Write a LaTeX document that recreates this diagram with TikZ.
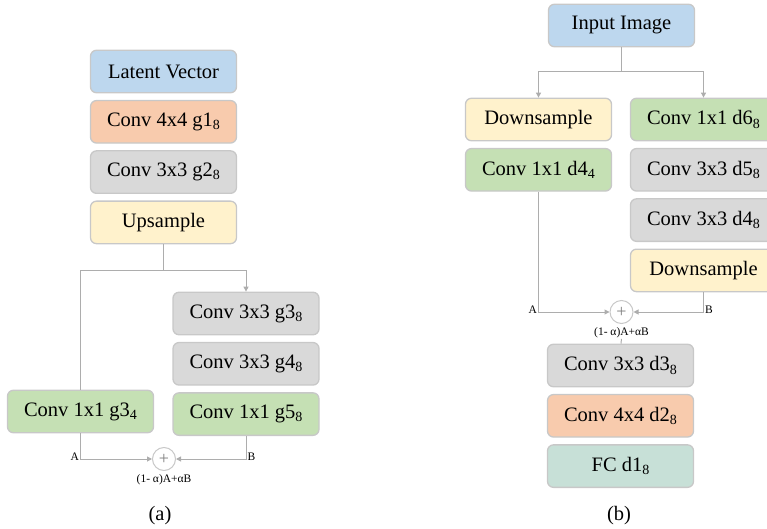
\documentclass[tikz,border=0pt]{standalone}
\usepackage{fontspec}
\setmainfont{Liberation Serif}
\usepackage{tikz}
\usetikzlibrary{positioning, arrows.meta}
\definecolor{bordo}{HTML}{C8C8C8}
\definecolor{linea}{HTML}{ADADAD}
\definecolor{blu}{HTML}{BDD7EE}
\definecolor{arancio}{HTML}{F8CBAD}
\definecolor{grigio}{HTML}{D9D9D9}
\definecolor{giallo}{HTML}{FFF2CC}
\definecolor{verde}{HTML}{C5E0B4}
\definecolor{acqua}{HTML}{C7E0D7}
% pedice abbassato (numero di canali)
\newcommand{\pedice}[1]{\raisebox{-0.35ex}{\fontsize{14}{14}\selectfont #1}}
\tikzset{
	>={Triangle[length=5pt, width=5pt]},
	% blocco generico (strato della rete)
	strato/.style={draw=bordo, line width=1.3pt, rounded corners=6pt, fill=#1,
	               minimum width=146pt, minimum height=42.5pt, inner sep=0pt,
	               font=\fontsize{20.5}{23}\selectfont},
	% nodo somma pesata
	somma/.style={draw=bordo, line width=1pt, circle, fill=white, minimum size=23pt,
	              inner sep=0pt, text=gray, font=\fontsize{18}{18}\selectfont},
	% collegamento
	link/.style={draw=linea, line width=1pt},
	% etichette piccole
	etich/.style={font=\fontsize{11.5}{12}\selectfont, inner sep=1pt},
	didascalia/.style={font=\fontsize{20.5}{23}\selectfont},
}

\begin{document}
\begin{tikzpicture}[x=1pt, y=-1pt, node distance=6.5pt]
    \useasboundingbox (0,0) rectangle (767,529);
    \clip (0,0) rectangle (767,529);
    % generatore
    \node[strato=blu] (lat) at (163.5,71.5) {Latent Vector};
    \node[strato=arancio, below=of lat] (g1) {Conv 4x4 g1\pedice{8}};
    \node[strato=grigio, below=of g1] (g2) {Conv 3x3 g2\pedice{8}};
    \node[strato=giallo, below=of g2] (up) {Upsample};
    \node[strato=grigio] (g3) at (246,313.5) {Conv 3x3 g3\pedice{8}};
    \node[strato=grigio, below=of g3] (g4) {Conv 3x3 g4\pedice{8}};
    \node[strato=verde, below=of g4] (g5) {Conv 1x1 g5\pedice{8}};
    \node[strato=verde] (g3b) at (80.5,411.5) {Conv 1x1 g3\pedice{4}};
    \node[somma] (plusa) at (164,459) {+};
    \node[etich, below=2pt of plusa] (mixa) {(1- α)A+αB};
    \draw[link] (up.south) -- ++(0,26) -| (g3b.north);
    \draw[link, ->] (up.south) ++(0,26) -| (g3.north);
    \draw[link, ->] (g3b.south) |- node[etich, pos=0.5, left, yshift=2pt] {A} (plusa);
    \draw[link, ->] (g5.south) |- node[etich, pos=0.5, right, yshift=2pt] {B} (plusa);
    \node[didascalia] (capa) at (160,516) {(a)};
    % discriminatore
    \node[strato=blu] (inp) at (621.5,25.5) {Input Image};
    \node[strato=giallo] (dsl) at (538.5,119.5) {Downsample};
    \node[strato=verde, below=of dsl] (d4b) {Conv 1x1 d4\pedice{4}};
    \node[strato=verde] (d6) at (703.5,119.5) {Conv 1x1 d6\pedice{8}};
    \node[strato=grigio, below=of d6] (d5) {Conv 3x3 d5\pedice{8}};
    \node[strato=grigio, below=of d5] (d4) {Conv 3x3 d4\pedice{8}};
    \node[strato=giallo, below=of d4] (dsr) {Downsample};
    \node[somma] (plusb) at (621.5,312) {+};
    \node[etich, below=2pt of plusb] (mixb) {(1- α)A+αB};
    \node[strato=grigio] (d3) at (620.5,365.5) {Conv 3x3 d3\pedice{8}};
    \node[strato=arancio, below=of d3] (d2) {Conv 4x4 d2\pedice{8}};
    \node[strato=acqua, below=of d2] (d1) {FC d1\pedice{8}};
    \draw[link, ->] (inp.south) -- ++(0,24) -| (dsl.north);
    \draw[link, ->] (inp.south) ++(0,24) -| (d6.north);
    \draw[link, ->] (d4b.south) |- node[etich, pos=0.5, left, yshift=2pt] {A} (plusb);
    \draw[link, ->] (dsr.south) |- node[etich, pos=0.5, right, yshift=2pt] {B} (plusb);
    \draw[link] (mixb) -- (d3);
    \node[didascalia] (capb) at (619,516) {(b)};
\end{tikzpicture}
\end{document}
